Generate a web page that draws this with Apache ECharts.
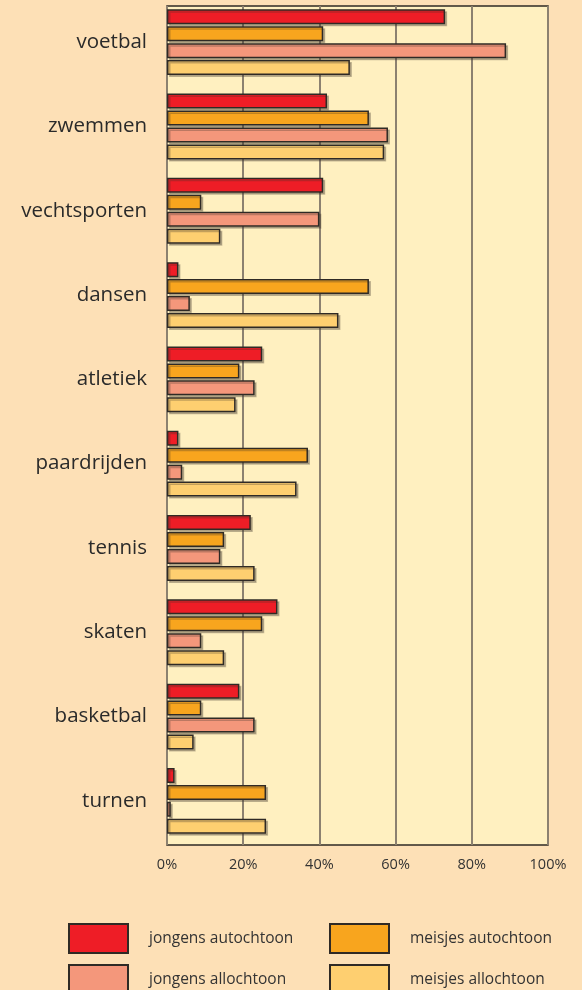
<!DOCTYPE html>
<html>
<head>
    <meta charset="utf-8">
    <title>Sport</title>
    <script src="https://cdn.jsdelivr.net/npm/echarts@6/dist/echarts.min.js"></script>
    <style>
        body { margin: 0; background: #fde0b6; }
    </style>
</head>
<body>
<div id="main" style="width: 582px;height:990px;"></div>
<script type="text/javascript">
    // data
    var sporten = ['voetbal', 'zwemmen', 'vechtsporten', 'dansen', 'atletiek',
        'paardrijden', 'tennis', 'skaten', 'basketbal', 'turnen'];
    var jongensAutochtoon = [73, 42, 41, 3, 25, 3, 22, 29, 19, 2];
    var meisjesAutochtoon = [41, 53, 9, 53, 19, 37, 15, 25, 9, 26];
    var jongensAllochtoon = [89, 58, 40, 6, 23, 4, 14, 9, 23, 1];
    var meisjesAllochtoon = [48, 57, 14, 45, 18, 34, 23, 15, 7, 26];
    var xTicks = [0, 20, 40, 60, 80, 100];

    var font = 'Open Sans';
    var myChart = echarts.init(document.getElementById('main'));

    function bar(name, data, color) {
        return {
            name: name,
            type: 'bar',
            xAxisIndex: 1,
            yAxisIndex: 1,
            data: data,
            barWidth: 15,
            barGap: '13%',
            itemStyle: {
                color: color,
                borderColor: '#2f2a25',
                borderWidth: 1.5,
                shadowColor: 'rgba(60,50,40,0.3)',
                shadowOffsetX: 2,
                shadowOffsetY: 2
            }
        };
    }

    // een legenda per item, zodat de plaats vast ligt
    function legend(name, left, top) {
        return {
            orient: 'vertical', left: left, top: top, padding: 0,
            itemWidth: 59, itemHeight: 29, icon: 'rect',
            data: [name], selectedMode: false,
            textStyle: {color: '#333', fontFamily: font, fontSize: 15.5, padding: [0, 0, 0, 16]}
        };
    }

    var option = {
        backgroundColor: '#fde0b6',
        animation: false,
        grid: [
            {left: 167, top: 6, width: 381, height: 839, show: true,
                backgroundColor: '#fff0c0', borderColor: '#2f2a25', borderWidth: 1.5},
            {left: 167, top: 0, width: 381, height: 843}
        ],
        xAxis: [
            {
                gridIndex: 0, type: 'value', min: xTicks[0], max: xTicks[xTicks.length - 1], interval: 20,
                axisLine: {show: false}, axisTick: {show: false},
                axisLabel: {formatter: '{value}%', color: '#333', fontFamily: font, fontSize: 14.5, margin: 12},
                splitLine: {lineStyle: {color: '#8c8170', width: 2}}
            },
            {gridIndex: 1, type: 'value', min: 0, max: 100, show: false}
        ],
        yAxis: [
            {gridIndex: 0, type: 'category', data: sporten, show: false},
            {
                gridIndex: 1, type: 'category', data: sporten, inverse: true,
                axisLine: {show: false}, axisTick: {show: false},
                axisLabel: {color: '#2a2a2a', fontFamily: font, fontSize: 20.5, margin: 20}
            }
        ],
        legend: [
            legend('jongens autochtoon', 68, 923),
            legend('jongens allochtoon', 68, 964),
            legend('meisjes autochtoon', 329, 923),
            legend('meisjes allochtoon', 329, 964)
        ],
        series: [
            bar('jongens autochtoon', jongensAutochtoon, '#ee1d26'),
            bar('meisjes autochtoon', meisjesAutochtoon, '#f8a51e'),
            bar('jongens allochtoon', jongensAllochtoon, '#f4977b'),
            bar('meisjes allochtoon', meisjesAllochtoon, '#fecf70')
        ]
    };

    myChart.setOption(option);
</script>
</body>
</html>
